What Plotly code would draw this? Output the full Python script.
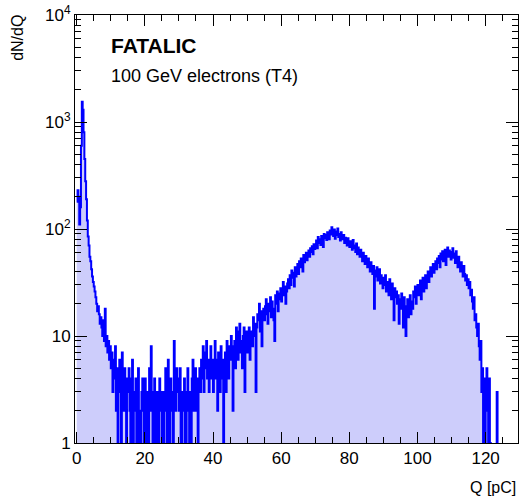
import numpy as np
import plotly.graph_objects as go

# charge histogram, 0.25 pC bins starting at 0 pC
bin_width = 0.25
q_start = 0.0
counts = [
    180, 230, 200, 110, 160, 600, 1550, 1300, 800, 450, 280, 190, 120, 85, 70, 55, 50, 42, 36, 32,  # 0-5
    29, 26, 23, 20, 17, 19, 16, 13, 15, 12, 10, 14, 9, 18, 8, 10, 7, 9, 6, 8,                         # 5-10
    5, 7, 3, 6, 4, 8, 2, 5, 0, 4, 6, 3, 1, 7, 4, 2, 5, 3, 0, 4,                                       # 10-15
    3, 5, 2, 0, 4, 6, 1, 3, 2, 4, 0, 3, 5, 1, 2, 0, 3, 4, 2, 1,                                       # 15-20
    4, 2, 0, 3, 1, 5, 2, 8, 3, 1, 2, 4, 0, 2, 3, 1, 0, 4, 2, 3,                                       # 20-25
    1, 3, 0, 2, 5, 3, 1, 6, 2, 0, 4, 2, 3, 1, 9, 4, 2, 5, 3, 4,                                       # 25-30
    2, 5, 1, 0, 3, 2, 4, 0, 1, 3, 5, 2, 0, 3, 1, 4, 6, 2, 3, 5,                                       # 30-35
    2, 4, 1, 3, 5, 3, 6, 4, 8, 3, 5, 7, 9, 4, 6, 3, 5, 8, 4, 6,                                       # 35-40
    3, 5, 9, 4, 6, 2, 7, 5, 3, 8, 4, 6, 0, 5, 7, 3, 9, 6, 4, 8,                                       # 40-45
    6, 10, 8, 2, 7, 9, 5, 12, 8, 6, 11, 13, 7, 9, 5, 10, 12, 3, 8, 11,                                # 45-50
    7, 10, 12, 6, 9, 11, 8, 15, 10, 13, 3, 12, 16, 14, 20, 11, 17, 8, 15, 18,                         # 50-55
    14, 19, 22, 16, 13, 20, 17, 23, 15, 21, 18, 14, 9, 24, 20, 26, 17, 22, 25, 28,                    # 55-60
    21, 27, 32, 24, 29, 20, 26, 31, 34, 28, 37, 30, 41, 35, 39, 29, 44, 36, 42, 47,                   # 60-65
    38, 50, 44, 53, 46, 40, 57, 49, 54, 60, 51, 58, 63, 55, 66, 61, 69, 58, 72, 65,                   # 65-70
    70, 78, 66, 84, 74, 80, 71, 86, 77, 68, 90, 82, 88, 79, 93, 85, 80, 97, 89, 104,                  # 70-75
    92, 86, 99, 81, 95, 88, 101, 84, 90, 78, 93, 85, 80, 88, 74, 83, 77, 70, 82, 75,                  # 75-80
    68, 77, 72, 64, 79, 66, 70, 61, 73, 58, 67, 62, 55, 64, 58, 50, 60, 53, 47, 56,                   # 80-85
    51, 44, 53, 46, 40, 49, 43, 38, 45, 18, 41, 36, 44, 33, 39, 42, 31, 37, 34, 28,                   # 85-90
    35, 30, 37, 26, 32, 29, 24, 34, 27, 22, 31, 25, 14, 28, 23, 26, 20, 24, 13, 22,                   # 90-95
    18, 25, 21, 12, 23, 17, 10, 19, 22, 15, 20, 24, 16, 21, 18, 26, 23, 29, 20, 25,                   # 95-100
    30, 24, 27, 33, 22, 29, 35, 26, 31, 37, 28, 34, 40, 32, 38, 44, 36, 41, 47, 39,                   # 100-105
    45, 50, 42, 53, 48, 56, 44, 59, 52, 62, 50, 57, 64, 46, 60, 67, 55, 63, 58, 52,                   # 105-110
    61, 66, 54, 59, 48, 62, 51, 44, 55, 47, 40, 49, 42, 36, 45, 38, 33, 37, 30, 34,                   # 110-115
    28, 32, 24, 27, 21, 18, 23, 14, 16, 12, 10, 13, 8, 6, 9, 3, 5, 1, 4, 0,                           # 115-120
    3, 5, 2, 0, 4, 1, 0, 0, 0, 0, 0, 0, 0, 3, 0, 0, 0, 0, 0, 0,                                       # 120-125
    0, 0, 0, 0, 0, 0, 0, 0, 0, 0, 0, 0, 0, 0, 0, 0, 0, 0, 0, 0,                                       # 125-130
]

x_ticks = [0, 20, 40, 60, 80, 100, 120]
y_ticks = [1, 10, 100, 1000, 10000]
y_tick_labels = ["1", "10", "10<sup>2</sup>", "10<sup>3</sup>", "10<sup>4</sup>"]
title_text = "FATALIC"
subtitle_text = "100 GeV electrons (T4)"

edges = q_start + bin_width * np.arange(len(counts) + 1)
# empty bins drop below the log axis, like ROOT draws them
y_plot = [c if c > 0 else 0.3 for c in counts]
y_plot = y_plot + [y_plot[-1]]

fig = go.Figure()
fig.add_trace(
    go.Scatter(
        x=edges,
        y=y_plot,
        mode="lines",
        line={"color": "#0000ff", "width": 2, "shape": "hv"},
        fill="tozeroy",
        fillcolor="#cdcdfb",
        showlegend=False,
        hoverinfo="skip",
    )
)

font = "Liberation Sans, Arial, Helvetica, sans-serif"

fig.update_layout(
    width=519,
    height=500,
    margin={"l": 75, "r": 1, "t": 15, "b": 57},
    paper_bgcolor="white",
    plot_bgcolor="white",
    font={"family": font, "size": 17, "color": "black"},
    xaxis={
        "range": [-0.5, 129.5],
        "tickvals": x_ticks,
        "ticks": "inside",
        "ticklen": 11,
        "tickwidth": 1,
        "tickcolor": "black",
        "minor": {"ticks": "inside", "ticklen": 6, "dtick": 5, "tickcolor": "black"},
        "showline": True,
        "linecolor": "black",
        "linewidth": 1,
        "mirror": "allticks",
        "showgrid": False,
        "zeroline": False,
        "tickfont": {"size": 17},
        "automargin": False,
    },
    yaxis={
        "type": "log",
        "range": [0, 4],
        "tickvals": y_ticks,
        "ticktext": y_tick_labels,
        "ticks": "inside",
        "ticklen": 12,
        "tickwidth": 1,
        "tickcolor": "black",
        "minor": {"ticks": "inside", "ticklen": 6, "dtick": "D1", "tickcolor": "black"},
        "showline": True,
        "linecolor": "black",
        "linewidth": 1,
        "mirror": "allticks",
        "showgrid": False,
        "zeroline": False,
        "tickfont": {"size": 17},
        "automargin": False,
    },
    annotations=[
        {
            "text": "<b>" + title_text + "</b>",
            "xref": "paper", "yref": "paper",
            "x": 0.077, "y": 0.9276,
            "xanchor": "left", "yanchor": "middle",
            "showarrow": False,
            "font": {"size": 21},
        },
        {
            "text": subtitle_text,
            "xref": "paper", "yref": "paper",
            "x": 0.077, "y": 0.8575,
            "xanchor": "left", "yanchor": "middle",
            "showarrow": False,
            "font": {"size": 18},
        },
        {
            "text": "dN/dQ",
            "xref": "paper", "yref": "paper",
            "x": -0.13, "y": 1.006,
            "xanchor": "center", "yanchor": "top",
            "textangle": -90,
            "showarrow": False,
            "font": {"size": 16},
        },
        {
            "text": "Q [pC]",
            "xref": "paper", "yref": "paper",
            "x": 1.0, "y": -0.103,
            "xanchor": "right", "yanchor": "middle",
            "showarrow": False,
            "font": {"size": 16},
        },
    ],
)

# drop the default 8px page margin so the figure sits at the window corner
fig.write_html(
    "out.html",
    config={"displayModeBar": False},
    post_script="document.body.style.margin = '0';",
)
